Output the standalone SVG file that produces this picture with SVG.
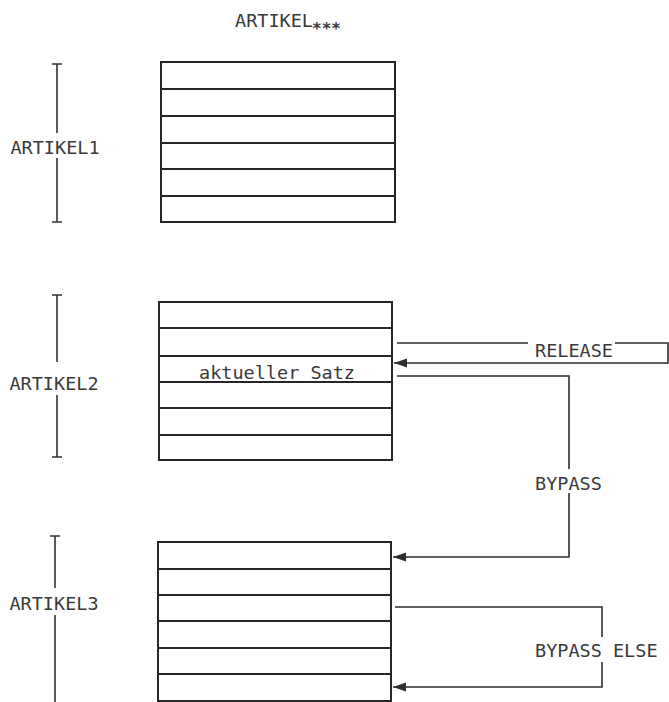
<svg xmlns="http://www.w3.org/2000/svg" width="669" height="702" viewBox="0 0 669 702">
<style>
.box{fill:#fff;stroke:#262626;stroke-width:2}
.row{stroke:#262626;stroke-width:2}
.bar{stroke:#333;stroke-width:1.6;fill:none}
.con{stroke:#2e2e2e;stroke-width:1.6;fill:none}
.t{font-family:"DejaVu Sans Mono","Liberation Mono",monospace;font-size:18.5px;fill:#3a3a3a}
.lbl{text-anchor:middle}
</style>
<defs>
<marker id="ah" markerUnits="userSpaceOnUse" markerWidth="14" markerHeight="10" viewBox="0 0 14 10" refX="13" refY="5" orient="auto">
<path d="M0,0.5 L13,5 L0,9.5 Z" fill="#2e2e2e"/>
</marker>
</defs>
<rect width="669" height="702" fill="#fff"/>

<g id="title">
<text class="t" x="235" y="27">ARTIKEL</text>
<text x="312" y="34" style="font-family:'DejaVu Sans Mono',monospace;font-size:16px;font-weight:bold;fill:#3a3a3a">***</text>
</g>

<g id="artikel1">
<rect class="box" x="161" y="62" width="234" height="160"/>
<path class="row" d="M161,89H395M161,116H395M161,143H395M161,169H395M161,196H395"/>
</g>
<g id="artikel1-label">
<path class="bar" d="M52,64H62M57,64V133M57,158V222M52,222H62"/>
<text class="t lbl" x="55" y="154">ARTIKEL1</text>
</g>

<g id="artikel2">
<rect class="box" x="159" y="302" width="233" height="158"/>
<path class="row" d="M159,328H392M159,356H392M159,382H392M159,408H392M159,435H392"/>
<text class="t lbl" x="277" y="379">aktueller Satz</text>
</g>
<g id="artikel2-label">
<path class="bar" d="M52,295H62M57,295V362M57,395V457M52,457H62"/>
<text class="t lbl" x="54" y="390">ARTIKEL2</text>
</g>

<g id="artikel3">
<rect class="box" x="158" y="542" width="233" height="159"/>
<path class="row" d="M158,569H391M158,595H391M158,621H391M158,648H391M158,674H391"/>
</g>
<g id="artikel3-label">
<path class="bar" d="M50,536H60M55,536V588M55,615V702"/>
<text class="t lbl" x="54" y="610">ARTIKEL3</text>
</g>

<g id="connectors">
<path class="con" d="M397,343H528M615,343H668V363H394" marker-end="url(#ah)"/>
<text class="t" x="535" y="357">RELEASE</text>
<path class="con" d="M397,376H569V469M569,493V557H393" marker-end="url(#ah)"/>
<text class="t" x="535" y="490">BYPASS</text>
<path class="con" d="M395,607H602V637M602,662V687H393" marker-end="url(#ah)"/>
<text class="t" x="535" y="657">BYPASS ELSE</text>
</g>
</svg>
